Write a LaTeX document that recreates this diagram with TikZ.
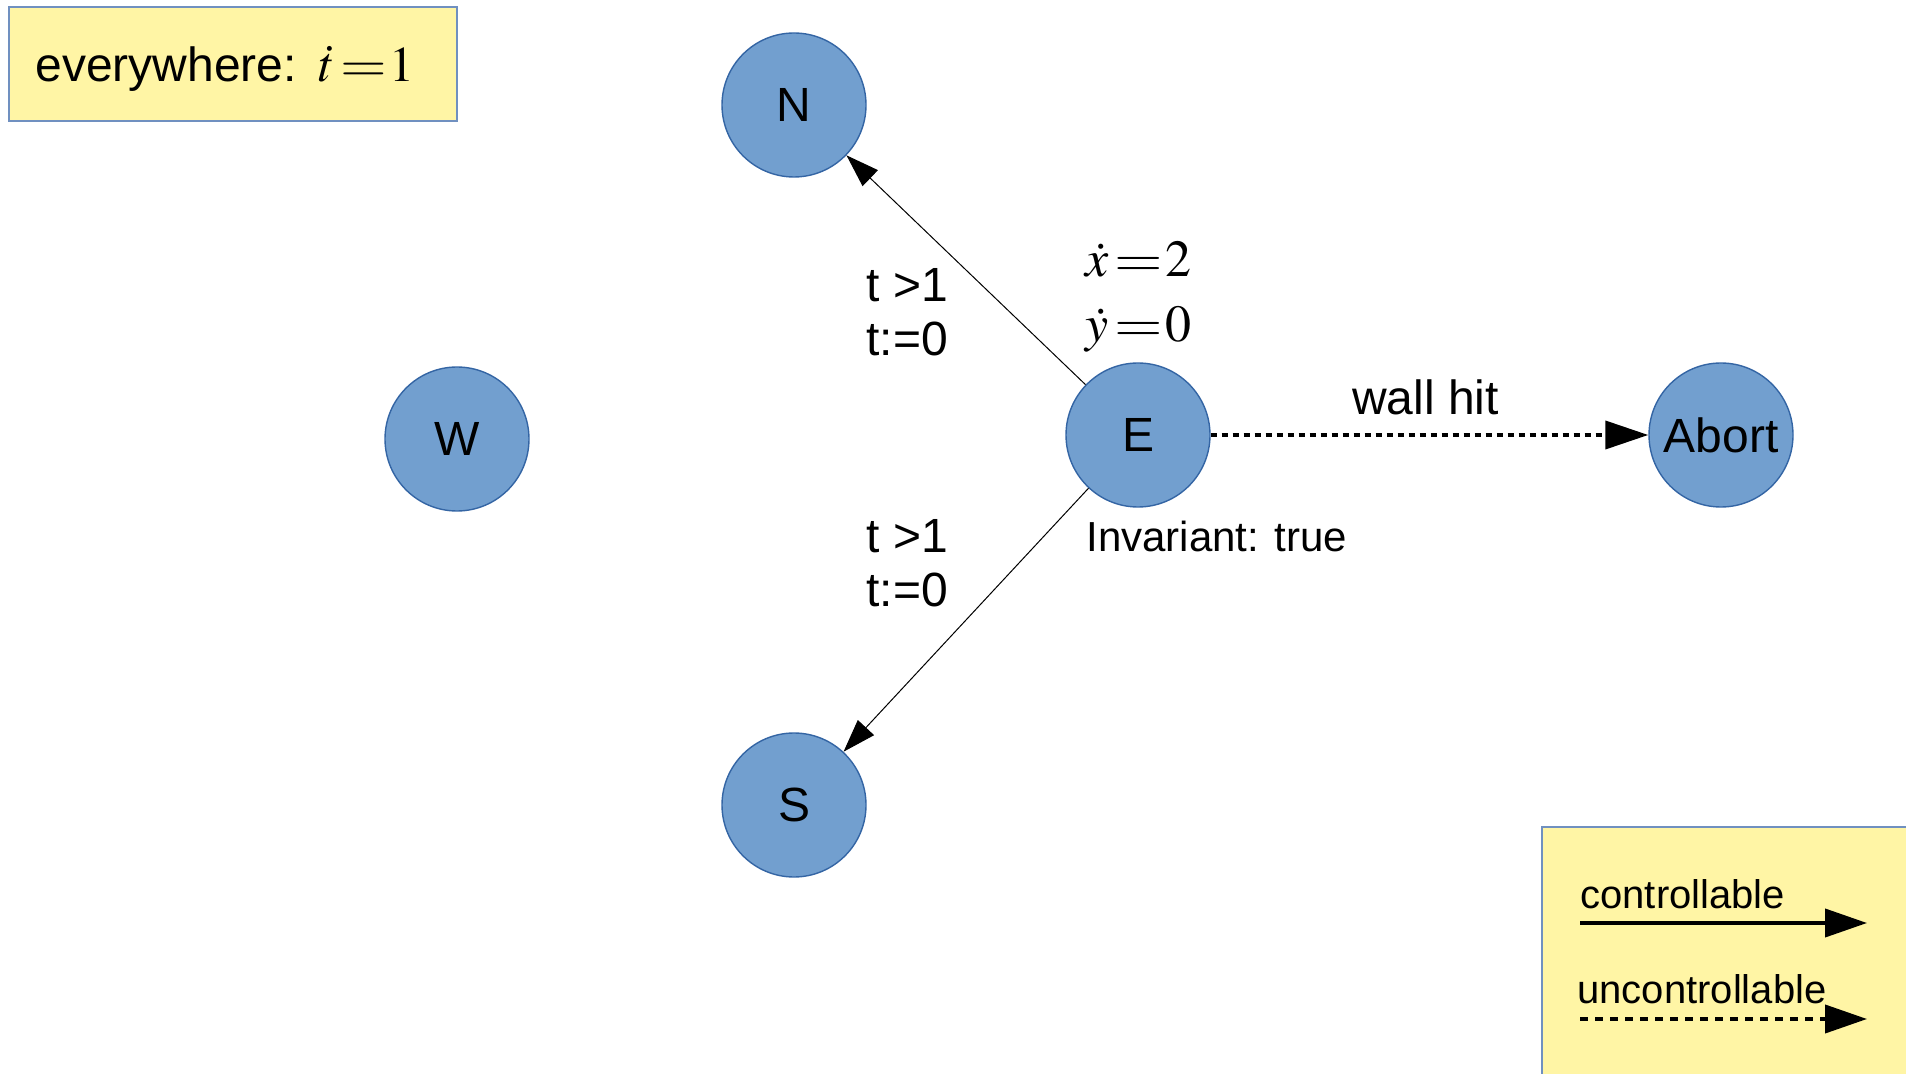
\documentclass[tikz,border=0pt]{standalone}
\usepackage{mathptmx}
\usepackage[no-math]{fontspec}
\setmainfont{Liberation Sans}
\usetikzlibrary{arrows.meta}
\definecolor{stateblue}{HTML}{729FCF}
\definecolor{stateedge}{HTML}{3465A4}
\definecolor{notefill}{HTML}{FFF5A5}
\definecolor{noteedge}{HTML}{7090C0}
% a wide equals sign with tight spacing, as used in the flow annotations
\newcommand{\weq}{\mkern2mu\scalebox{1.2}[1]{$=$}\mkern1mu}
\begin{document}
\begin{tikzpicture}[x=0.5pt,y=-0.5pt,
  state/.style={circle, fill=stateblue, draw=stateedge, line width=0.7pt,
    minimum size=72pt, inner sep=0pt, font=\fontsize{24}{28}\selectfont},
  note/.style={fill=notefill, draw=noteedge, line width=0.6pt},
  lbl/.style={inner sep=0pt, anchor=base west, align=left,
    font=\fontsize{24}{27}\selectfont},
  small/.style={inner sep=0pt, anchor=base west, font=\fontsize{20}{24}\selectfont},
  ctrl/.style={draw=black, line width=0.5pt, -{Triangle[length=16.5pt,width=11pt]}},
  unctrl/.style={draw=black, line width=1.9pt, dash pattern=on 3pt off 2.5pt,
    -{Triangle[length=21.5pt,width=14pt]}},
  keyctrl/.style={draw=black, line width=2pt, -{Triangle[length=21pt,width=14pt]}},
  keyunctrl/.style={draw=black, line width=2pt, dash pattern=on 4pt off 3.5pt,
    -{Triangle[length=21pt,width=14pt]}},
]
\useasboundingbox (0,0) rectangle (1906,1074);

% global flow note
\draw[note] (9,7) rectangle (457,121);
\node[lbl] (flowall) at (35,82) {everywhere:\hspace{11pt}{\fontsize{25}{28}\selectfont$\dot{t}\weq 1$}};

% locations
\node[state] (N) at (794,105) {N};
\node[state] (W) at (457,439) {W};
\node[state] (E) at (1138,435) {E};
\node[state] (S) at (794,805) {S};
\node[state] (A) at (1721,435) {Abort};

% dynamics and invariant of E (multi-line nodes: base is the last line)
\node[lbl, font=\fontsize{26}{32.5}\selectfont] (flowE) at (1085,342) {$\dot{x}\weq 2$\\$\dot{y}\weq 0$};
\node[small, font=\fontsize{21}{25}\selectfont] (invE) at (1086,552) {Invariant: true};

% transitions
\draw[ctrl] (E) -- (N);
\draw[ctrl] (E) -- (S);
\draw[unctrl] (E) -- node[midway, anchor=base, yshift=10pt, xshift=-2pt, inner sep=0pt,
  font=\fontsize{24}{28}\selectfont] (wall) {wall hit} (A);
\node[lbl] (gN) at (866,356) {t >1\\t:=0};
\node[lbl] (gS) at (866,607) {t >1\\t:=0};

% legend
\begin{scope}
  \clip (0,0) rectangle (1906,1074);
  \draw[note] (1542,827) rectangle (1930,1100);
\end{scope}
\node[small] (kc) at (1580,908) {controllable};
\node[small] (ku) at (1577,1003) {uncontrollable};
\coordinate (kc1) at (1580,923);
\coordinate (kc2) at (1867,923);
\coordinate (ku1) at (1580,1019);
\coordinate (ku2) at (1867,1019);
\draw[keyctrl] (kc1) -- (kc2);
\draw[keyunctrl] (ku1) -- (ku2);
\end{tikzpicture}
\end{document}
